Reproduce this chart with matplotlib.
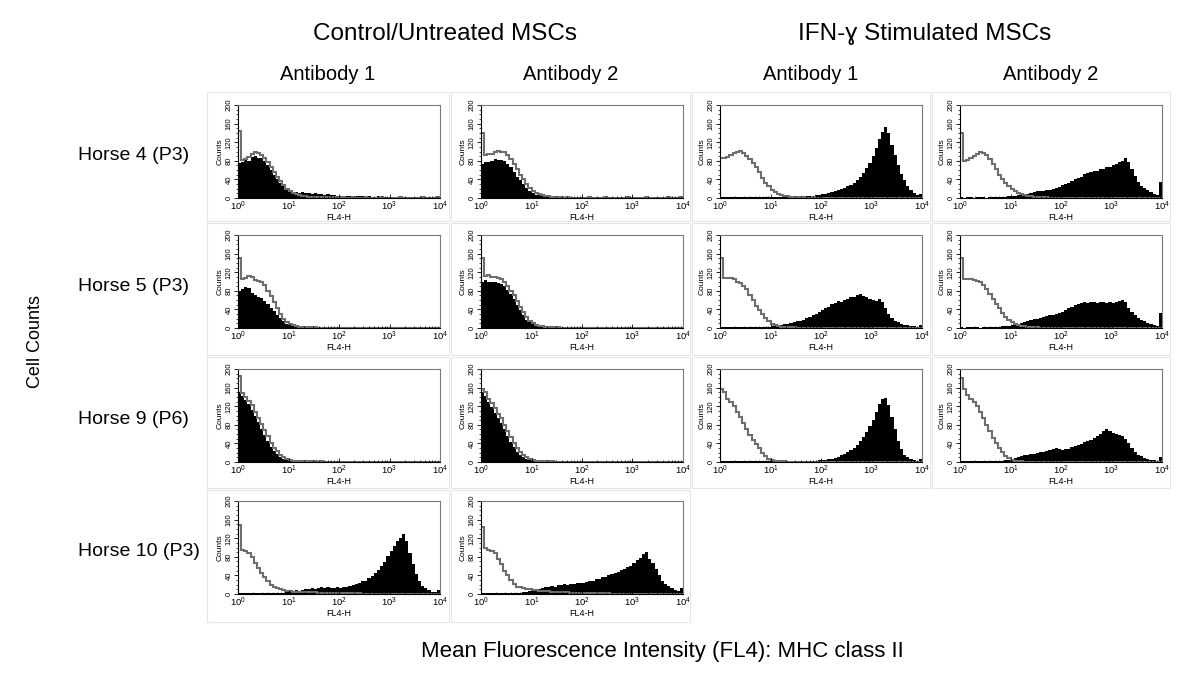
import numpy as np
import matplotlib.pyplot as plt
from matplotlib.ticker import MultipleLocator, FixedLocator, NullFormatter
from matplotlib.patches import Rectangle

plt.rcParams['font.family'] = ['Liberation Sans', 'DejaVu Sans']
plt.rcParams['mathtext.default'] = 'regular'

# 64 log channels from 10^0 to 10^4 (16 per decade)
edges = np.logspace(0, 4, 65)

# gray = isotype control, black = MHC class II antibody
# Horse 4, control
iso_h4_ctrl_ab1 = [145, 82, 84, 88, 95, 100, 97, 92, 86, 77, 66, 56, 46, 36, 28, 20,
                   15, 11, 8, 6, 5, 4, 3, 3, 2, 2, 3, 2, 2, 1, 2, 2,
                   1, 2, 1, 1, 2, 1, 1, 1, 2, 1, 1, 1, 1, 2, 1, 1,
                   1, 1, 1, 2, 1, 1, 1, 1, 1, 1, 2, 1, 1, 1, 1, 2]
mhc_h4_ctrl_ab1 = [76, 78, 83, 80, 88, 91, 87, 86, 80, 70, 60, 50, 40, 32, 25, 19,
                   15, 13, 12, 11, 12, 10, 10, 9, 10, 8, 8, 7, 8, 6, 6, 5,
                   5, 5, 4, 5, 4, 4, 5, 4, 3, 4, 3, 3, 4, 3, 3, 3,
                   2, 3, 3, 2, 3, 2, 3, 2, 2, 3, 2, 2, 3, 2, 2, 4]
iso_h4_ctrl_ab2 = [140, 92, 95, 94, 98, 101, 99, 98, 92, 84, 74, 62, 50, 40, 30, 22,
                   16, 11, 8, 6, 5, 4, 3, 2, 2, 2, 1, 2, 1, 1, 1, 1,
                   1, 1, 2, 1, 1, 1, 1, 2, 1, 1, 1, 1, 1, 1, 2, 1,
                   1, 1, 1, 1, 2, 1, 1, 1, 1, 1, 1, 2, 1, 1, 1, 2]
mhc_h4_ctrl_ab2 = [74, 77, 78, 80, 83, 81, 82, 80, 74, 66, 56, 46, 38, 30, 22, 15,
                   10, 7, 6, 5, 4, 3, 3, 3, 2, 3, 2, 2, 3, 2, 2, 2,
                   3, 2, 2, 3, 2, 2, 3, 2, 2, 3, 2, 2, 2, 3, 2, 2,
                   3, 2, 2, 2, 3, 2, 2, 2, 3, 2, 2, 2, 3, 2, 2, 4]
# Horse 4, IFN-g
iso_h4_ifn_ab1 = [86, 85, 88, 92, 96, 100, 101, 97, 90, 84, 76, 66, 55, 43, 32, 25,
                  18, 12, 9, 6, 5, 4, 3, 3, 2, 2, 2, 1, 1, 2, 1, 1,
                  1, 1, 1, 1, 1, 1, 1, 1, 1, 1, 1, 1, 1, 1, 1, 1,
                  1, 1, 1, 1, 1, 1, 1, 1, 1, 1, 1, 1, 1, 1, 1, 1]
mhc_h4_ifn_ab1 = [3, 2, 3, 3, 2, 3, 3, 2, 3, 3, 2, 3, 3, 2, 3, 3,
                  2, 3, 3, 2, 3, 3, 2, 3, 3, 3, 4, 4, 5, 5, 6, 7,
                  8, 9, 10, 12, 16, 18, 20, 22, 25, 28, 32, 38, 45, 54, 64, 75,
                  90, 108, 126, 142, 152, 140, 115, 92, 70, 52, 38, 26, 18, 11, 7, 8]
iso_h4_ifn_ab2 = [140, 80, 82, 86, 90, 94, 98, 97, 92, 84, 74, 62, 50, 40, 32, 25,
                  19, 14, 11, 8, 6, 5, 4, 3, 3, 2, 2, 2, 1, 1, 1, 1,
                  1, 1, 1, 1, 1, 1, 1, 1, 1, 1, 1, 1, 1, 1, 1, 1,
                  1, 1, 1, 1, 1, 1, 1, 1, 1, 1, 1, 1, 1, 1, 1, 1]
mhc_h4_ifn_ab2 = [2, 1, 2, 2, 1, 2, 2, 2, 1, 2, 2, 2, 3, 3, 3, 4,
                  4, 5, 6, 7, 8, 9, 11, 12, 14, 15, 16, 17, 18, 19, 21, 24,
                  27, 31, 32, 37, 40, 44, 46, 51, 53, 55, 59, 58, 63, 62, 66, 66,
                  70, 73, 77, 80, 85, 78, 62, 48, 34, 26, 21, 17, 13, 9, 6, 34]
# Horse 5, control
iso_h5_ctrl_ab1 = [150, 106, 108, 112, 110, 104, 101, 99, 92, 80, 68, 55, 42, 31, 20, 13,
                   8, 6, 4, 3, 3, 2, 2, 2, 2, 1, 1, 1, 1, 1, 1, 1,
                   1, 1, 1, 1, 1, 1, 1, 1, 1, 1, 1, 1, 1, 1, 1, 1,
                   1, 1, 1, 1, 1, 1, 1, 1, 1, 1, 1, 1, 1, 1, 1, 1]
mhc_h5_ctrl_ab1 = [80, 84, 89, 86, 76, 72, 66, 64, 58, 52, 44, 36, 28, 21, 14, 9,
                   6, 4, 3, 3, 2, 2, 2, 2, 1, 2, 2, 1, 2, 2, 1, 2,
                   2, 1, 2, 2, 2, 1, 2, 2, 1, 2, 2, 2, 1, 2, 2, 1,
                   2, 2, 1, 2, 2, 1, 2, 2, 2, 1, 2, 2, 1, 2, 2, 2]
iso_h5_ctrl_ab2 = [150, 112, 113, 110, 110, 108, 106, 100, 90, 80, 70, 58, 46, 34, 24, 16,
                   11, 7, 5, 4, 3, 3, 2, 2, 2, 1, 1, 1, 1, 1, 1, 1,
                   1, 1, 1, 1, 1, 1, 1, 1, 1, 1, 1, 1, 1, 1, 1, 1,
                   1, 1, 1, 1, 1, 1, 1, 1, 1, 1, 1, 1, 1, 1, 1, 1]
mhc_h5_ctrl_ab2 = [100, 103, 100, 98, 98, 96, 94, 90, 82, 74, 62, 50, 38, 28, 18, 12,
                   8, 5, 4, 3, 3, 2, 2, 2, 1, 2, 2, 1, 2, 1, 2, 2,
                   1, 2, 2, 1, 2, 1, 2, 2, 1, 2, 2, 1, 2, 2, 1, 2,
                   2, 1, 2, 2, 1, 2, 2, 1, 2, 2, 1, 2, 2, 1, 2, 2]
# Horse 5, IFN-g
iso_h5_ifn_ab1 = [150, 108, 108, 107, 106, 100, 96, 90, 84, 72, 60, 48, 38, 30, 22, 15,
                  9, 6, 4, 3, 3, 2, 2, 2, 1, 1, 1, 1, 1, 1, 1, 1,
                  1, 1, 1, 1, 1, 1, 1, 1, 1, 1, 1, 1, 1, 1, 1, 1,
                  1, 1, 1, 1, 1, 1, 1, 1, 1, 1, 1, 1, 1, 1, 1, 1]
mhc_h5_ifn_ab1 = [3, 2, 3, 2, 2, 3, 2, 3, 2, 2, 3, 2, 3, 3, 2, 3,
                  4, 5, 6, 7, 8, 9, 10, 12, 14, 16, 18, 21, 24, 27, 31, 35,
                  39, 44, 46, 51, 53, 57, 56, 61, 62, 66, 67, 71, 73, 69, 67, 62,
                  61, 59, 62, 56, 42, 30, 22, 16, 12, 9, 7, 6, 5, 4, 3, 7]
iso_h5_ifn_ab2 = [150, 106, 105, 106, 104, 102, 99, 93, 84, 73, 62, 51, 42, 33, 24, 17,
                  12, 9, 7, 5, 4, 3, 2, 2, 2, 1, 1, 1, 1, 1, 1, 1,
                  1, 1, 1, 1, 1, 1, 1, 1, 1, 1, 1, 1, 1, 1, 1, 1,
                  1, 1, 1, 1, 1, 1, 1, 1, 1, 1, 1, 1, 1, 1, 1, 1]
mhc_h5_ifn_ab2 = [2, 1, 2, 3, 2, 2, 1, 2, 3, 2, 2, 3, 3, 4, 4, 5,
                  6, 7, 9, 11, 13, 15, 17, 19, 20, 22, 24, 26, 28, 29, 31, 33,
                  35, 38, 42, 45, 49, 52, 54, 55, 54, 56, 55, 54, 56, 55, 54, 55,
                  54, 56, 58, 60, 56, 44, 34, 27, 22, 18, 14, 11, 9, 7, 5, 32]
# Horse 9, control
iso_h9_ctrl_ab1 = [185, 148, 140, 132, 122, 108, 95, 82, 68, 55, 40, 30, 23, 16, 10, 7,
                   4, 3, 3, 3, 2, 2, 2, 2, 2, 1, 2, 1, 1, 1, 1, 1,
                   1, 1, 1, 1, 1, 1, 1, 1, 1, 1, 1, 1, 1, 1, 1, 1,
                   1, 1, 1, 1, 1, 1, 1, 1, 1, 1, 1, 1, 1, 1, 1, 1]
mhc_h9_ctrl_ab1 = [150, 142, 134, 124, 112, 100, 86, 72, 58, 46, 33, 23, 17, 11, 7, 5,
                   3, 3, 2, 2, 3, 2, 3, 2, 2, 3, 2, 2, 2, 3, 2, 2,
                   3, 2, 2, 2, 3, 2, 2, 3, 2, 2, 2, 3, 2, 2, 3, 2,
                   2, 3, 2, 2, 2, 3, 2, 2, 2, 2, 3, 2, 2, 2, 2, 3]
iso_h9_ctrl_ab2 = [158, 150, 136, 126, 116, 104, 94, 80, 66, 54, 40, 30, 22, 15, 10, 6,
                   4, 3, 3, 2, 2, 2, 2, 1, 1, 1, 1, 1, 1, 1, 1, 1,
                   1, 1, 1, 1, 1, 1, 1, 1, 1, 1, 1, 1, 1, 1, 1, 1,
                   1, 1, 1, 1, 1, 1, 1, 1, 1, 1, 1, 1, 1, 1, 1, 1]
mhc_h9_ctrl_ab2 = [150, 142, 128, 118, 106, 94, 84, 70, 56, 44, 32, 22, 15, 10, 6, 4,
                   3, 2, 2, 3, 2, 2, 3, 2, 2, 2, 3, 2, 2, 2, 3, 2,
                   2, 3, 2, 2, 2, 3, 2, 2, 3, 2, 2, 2, 3, 2, 2, 2,
                   3, 2, 2, 2, 2, 3, 2, 2, 2, 3, 2, 2, 2, 2, 3, 2]
# Horse 9, IFN-g
iso_h9_ifn_ab1 = [158, 150, 136, 128, 120, 108, 96, 84, 72, 58, 47, 38, 30, 20, 12, 7,
                  4, 3, 2, 2, 2, 1, 1, 1, 1, 1, 1, 1, 1, 1, 1, 1,
                  1, 1, 1, 1, 1, 1, 1, 1, 1, 1, 1, 1, 1, 1, 1, 1,
                  1, 1, 1, 1, 1, 1, 1, 1, 1, 1, 1, 1, 1, 1, 1, 1]
mhc_h9_ifn_ab1 = [3, 2, 3, 2, 3, 3, 2, 3, 2, 3, 2, 3, 3, 2, 3, 2,
                  3, 2, 3, 3, 2, 3, 2, 3, 3, 2, 3, 3, 3, 3, 3, 4,
                  4, 5, 6, 7, 9, 11, 15, 18, 22, 26, 31, 37, 45, 53, 64, 77,
                  90, 108, 124, 135, 138, 122, 96, 70, 46, 28, 16, 10, 6, 4, 3, 7]
iso_h9_ifn_ab2 = [180, 156, 145, 136, 128, 120, 108, 94, 80, 66, 52, 40, 30, 21, 13, 8,
                  5, 3, 2, 2, 1, 1, 1, 1, 1, 1, 1, 1, 1, 1, 1, 1,
                  1, 1, 1, 1, 1, 1, 1, 1, 1, 1, 1, 1, 1, 1, 1, 1,
                  1, 1, 1, 1, 1, 1, 1, 1, 1, 1, 1, 1, 1, 1, 1, 1]
mhc_h9_ifn_ab2 = [2, 3, 2, 3, 2, 3, 2, 2, 3, 3, 2, 3, 3, 3, 4, 5,
                  7, 8, 10, 12, 14, 15, 17, 18, 20, 21, 22, 24, 26, 28, 30, 28,
                  26, 27, 29, 32, 34, 36, 39, 42, 45, 48, 52, 56, 61, 66, 70, 66,
                  63, 61, 58, 55, 50, 40, 30, 22, 16, 12, 9, 7, 5, 4, 3, 10]
# Horse 10, control
iso_h10_ctrl_ab1 = [148, 94, 92, 88, 80, 66, 55, 45, 37, 28, 19, 14, 12, 10, 9, 7,
                    6, 5, 5, 5, 4, 4, 4, 4, 4, 3, 3, 3, 3, 3, 2, 2,
                    2, 2, 2, 2, 2, 2, 2, 1, 1, 1, 1, 1, 1, 1, 1, 1,
                    1, 1, 1, 1, 1, 1, 1, 1, 1, 1, 1, 1, 1, 1, 1, 1]
mhc_h10_ctrl_ab1 = [2, 3, 2, 3, 2, 2, 3, 2, 3, 3, 2, 3, 3, 2, 3, 4,
                    5, 6, 8, 7, 9, 11, 10, 12, 11, 13, 14, 13, 15, 13, 12, 14,
                    13, 15, 16, 18, 19, 22, 23, 27, 29, 34, 38, 45, 52, 61, 68, 81,
                    92, 104, 113, 120, 128, 114, 88, 64, 42, 28, 18, 12, 8, 5, 4, 9]
iso_h10_ctrl_ab2 = [145, 100, 95, 92, 88, 76, 64, 50, 40, 30, 21, 16, 14, 12, 11, 10,
                    9, 8, 7, 7, 6, 6, 5, 5, 5, 4, 4, 4, 3, 3, 3, 3,
                    3, 2, 2, 2, 2, 2, 2, 2, 2, 1, 1, 1, 1, 1, 1, 1,
                    1, 1, 1, 1, 1, 1, 1, 1, 1, 1, 1, 1, 1, 1, 1, 1]
mhc_h10_ctrl_ab2 = [2, 3, 2, 3, 2, 3, 3, 2, 3, 3, 3, 3, 3, 4, 5, 6,
                    7, 9, 11, 12, 14, 15, 17, 16, 19, 19, 21, 20, 22, 21, 23, 23,
                    24, 25, 28, 29, 32, 33, 36, 37, 41, 42, 45, 47, 51, 53, 58, 60,
                    66, 73, 77, 85, 90, 76, 66, 53, 40, 29, 22, 17, 12, 8, 6, 12]

col_titles = ['Antibody 1', 'Antibody 2', 'Antibody 1', 'Antibody 2']
row_labels = ['Horse 4 (P3)', 'Horse 5 (P3)', 'Horse 9 (P6)', 'Horse 10 (P3)']

# (row, col, isotype, antibody)
panels = [
    (0, 0, iso_h4_ctrl_ab1, mhc_h4_ctrl_ab1), (0, 1, iso_h4_ctrl_ab2, mhc_h4_ctrl_ab2),
    (0, 2, iso_h4_ifn_ab1, mhc_h4_ifn_ab1), (0, 3, iso_h4_ifn_ab2, mhc_h4_ifn_ab2),
    (1, 0, iso_h5_ctrl_ab1, mhc_h5_ctrl_ab1), (1, 1, iso_h5_ctrl_ab2, mhc_h5_ctrl_ab2),
    (1, 2, iso_h5_ifn_ab1, mhc_h5_ifn_ab1), (1, 3, iso_h5_ifn_ab2, mhc_h5_ifn_ab2),
    (2, 0, iso_h9_ctrl_ab1, mhc_h9_ctrl_ab1), (2, 1, iso_h9_ctrl_ab2, mhc_h9_ctrl_ab2),
    (2, 2, iso_h9_ifn_ab1, mhc_h9_ifn_ab1), (2, 3, iso_h9_ifn_ab2, mhc_h9_ifn_ab2),
    (3, 0, iso_h10_ctrl_ab1, mhc_h10_ctrl_ab1), (3, 1, iso_h10_ctrl_ab2, mhc_h10_ctrl_ab2),
]

W, H = 1200, 688
fig = plt.figure(figsize=(W / 100, H / 100), dpi=100)

col_left = [238, 481, 720, 960]
row_top = [105, 235, 369, 501]
ax_w, ax_h = 202, 93
tile_x = [(207, 449), (451, 690), (692, 930), (932, 1170)]
tile_y = [(92, 221), (223, 355), (357, 488), (490, 622)]

for r, c, iso, mhc in panels:
    x0, x1 = tile_x[c]
    y0, y1 = tile_y[r]
    fig.patches.append(Rectangle((x0 / W, 1 - y1 / H), (x1 - x0) / W, (y1 - y0) / H,
                                 transform=fig.transFigure, fill=False,
                                 edgecolor='#e6e6e6', lw=0.8))

    ax = fig.add_axes([col_left[c] / W, 1 - (row_top[r] + ax_h) / H, ax_w / W, ax_h / H])
    ax.stairs(mhc, edges, fill=True, color='black', lw=0)
    ax.stairs(iso, edges, color='#6e6e6e', lw=1.5)
    ax.set_xscale('log')
    ax.set_xlim(1, 1e4)
    ax.set_ylim(0, 200)

    ax.xaxis.set_major_locator(FixedLocator([1, 10, 100, 1000, 10000]))
    ax.set_xticklabels(['$10^0$', '$10^1$', '$10^2$', '$10^3$', '$10^4$'])
    minors = [m * 10 ** d for d in range(4) for m in range(2, 10)]
    ax.xaxis.set_minor_locator(FixedLocator(minors))
    ax.xaxis.set_minor_formatter(NullFormatter())
    ax.tick_params(axis='x', which='major', direction='in', length=3, width=0.6,
                   labelsize=6.8, pad=1.5)
    ax.tick_params(axis='x', which='minor', direction='in', length=1.8, width=0.5)

    ax.set_yticks([0, 40, 80, 120, 160, 200])
    ax.yaxis.set_minor_locator(MultipleLocator(10))
    ax.tick_params(axis='y', which='major', direction='out', length=3, width=0.6,
                   labelsize=5.5, pad=1, labelrotation=90)
    ax.tick_params(axis='y', which='minor', direction='out', length=1.5, width=0.5)
    for lab in ax.get_yticklabels():
        lab.set_va('center')

    ax.set_ylabel('Counts', fontsize=6, labelpad=1)
    ax.set_xlabel('FL4-H', fontsize=6.5, labelpad=-0.5)

    for side in ['left', 'bottom']:
        ax.spines[side].set_color('black')
        ax.spines[side].set_linewidth(0.8)
    for side in ['top', 'right']:
        ax.spines[side].set_color('#7a7a7a')
        ax.spines[side].set_linewidth(0.8)

fig.text(445 / W, 1 - 34 / H, 'Control/Untreated MSCs', fontsize=17.5,
         ha='center', va='center')
fig.text(925 / W, 1 - 34 / H, 'IFN-ɣ Stimulated MSCs', fontsize=17.5,
         ha='center', va='center')
for c, t in enumerate(col_titles):
    fig.text(sum(tile_x[c]) / 2 / W, 1 - 75 / H, t, fontsize=14.5, ha='center', va='center')
for r, t in enumerate(row_labels):
    fig.text(78 / W, 1 - (row_top[r] + 51) / H, t, fontsize=14, ha='left', va='center')
fig.text(35 / W, 1 - 342 / H, 'Cell Counts', fontsize=13, rotation=90,
         ha='center', va='center')
fig.text(662 / W, 1 - 652 / H, 'Mean Fluorescence Intensity (FL4): MHC class II',
         fontsize=16, ha='center', va='center')

fig.savefig('out.png', dpi=100, facecolor='white')
